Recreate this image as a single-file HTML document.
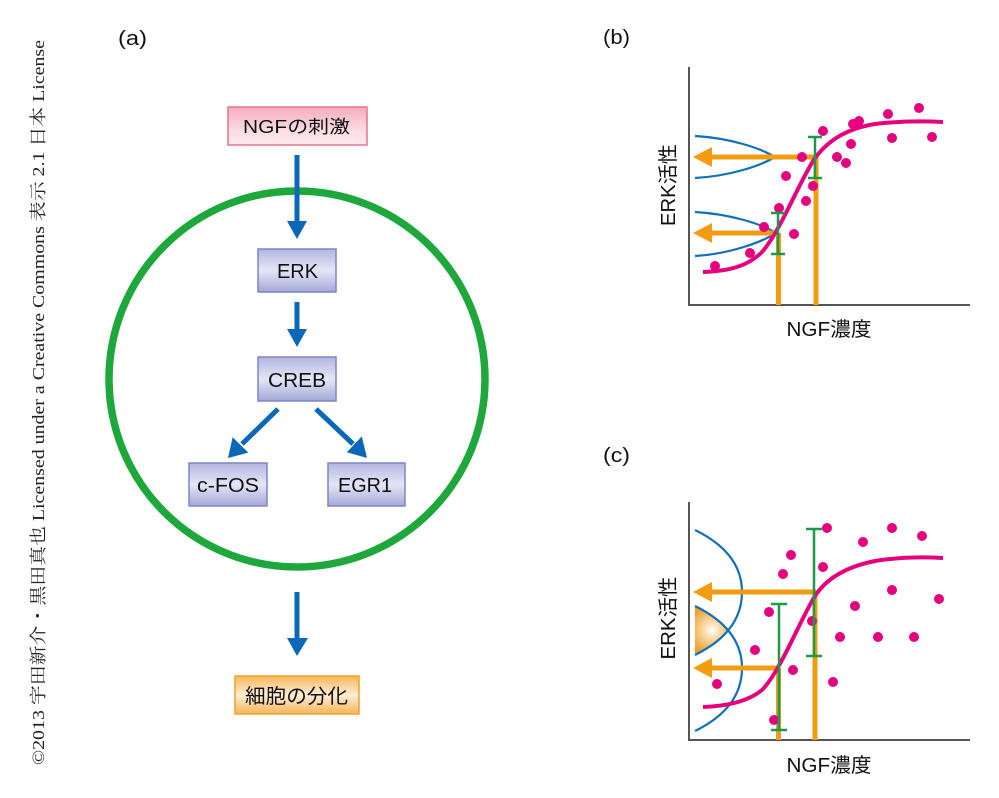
<!DOCTYPE html>
<html>
<head>
<meta charset="utf-8">
<style>
html,body{margin:0;padding:0;background:#fff;}
svg{display:block;}
text{font-family:"Liberation Sans","Noto Sans CJK JP",sans-serif;fill:#111;}
.serif{font-family:"Liberation Serif","Noto Serif CJK SC",serif;fill:#222;}
</style>
</head>
<body>
<svg width="999" height="798" viewBox="0 0 999 798" xmlns="http://www.w3.org/2000/svg">
<defs>
  <linearGradient id="gBlue" x1="0" y1="0" x2="0" y2="1">
    <stop offset="0" stop-color="#b2b6e0"/>
    <stop offset="0.5" stop-color="#e4e6f6"/>
    <stop offset="1" stop-color="#a3a8d7"/>
  </linearGradient>
  <linearGradient id="gPink" x1="0" y1="0" x2="0" y2="1">
    <stop offset="0" stop-color="#f5adbb"/>
    <stop offset="0.6" stop-color="#fbdbe2"/>
    <stop offset="1" stop-color="#fde9ee"/>
  </linearGradient>
  <linearGradient id="gOrange" x1="0" y1="0" x2="0" y2="1">
    <stop offset="0" stop-color="#f6b658"/>
    <stop offset="0.5" stop-color="#feeed6"/>
    <stop offset="1" stop-color="#f5b45a"/>
  </linearGradient>
  <radialGradient id="gShade" cx="712" cy="630" r="24" gradientUnits="userSpaceOnUse">
    <stop offset="0" stop-color="#ffffff"/>
    <stop offset="0.3" stop-color="#fde0b4"/>
    <stop offset="1" stop-color="#ee9f2e"/>
  </radialGradient>
</defs>

<!-- copyright -->
<text class="serif" transform="translate(44,765) rotate(-90)" font-size="17" textLength="725" lengthAdjust="spacingAndGlyphs">©2013 宇田新介・黒田真也 Licensed under a Creative Commons 表示 2.1 日本 License</text>

<!-- panel labels -->
<text x="118" y="45" font-size="20" textLength="29" lengthAdjust="spacingAndGlyphs">(a)</text>
<text x="603" y="44" font-size="20" textLength="27" lengthAdjust="spacingAndGlyphs">(b)</text>
<text x="603" y="462" font-size="20" textLength="27" lengthAdjust="spacingAndGlyphs">(c)</text>

<!-- ===== Panel (a) ===== -->
<circle cx="297" cy="379" r="188" fill="none" stroke="#1ea83c" stroke-width="7.5"/>

<!-- NGF box -->
<rect x="228" y="107" width="139" height="38" fill="url(#gPink)" stroke="#e07688" stroke-width="1.5"/>
<text x="243" y="133" font-size="18" textLength="107" lengthAdjust="spacingAndGlyphs">NGFの刺激</text>

<!-- arrow NGF -> ERK -->
<rect x="294.5" y="155" width="5" height="68" fill="#0a68b8"/>
<polygon points="287,221 307,221 297,239" fill="#0a68b8"/>

<!-- ERK -->
<rect x="258" y="249" width="78" height="43" fill="url(#gBlue)" stroke="#7d86c6" stroke-width="1.5"/>
<text x="277" y="278" font-size="20" textLength="41" lengthAdjust="spacingAndGlyphs">ERK</text>

<!-- arrow ERK -> CREB -->
<rect x="294.5" y="302" width="5" height="29" fill="#0a68b8"/>
<polygon points="287,329 307,329 297,347" fill="#0a68b8"/>

<!-- CREB -->
<rect x="258" y="357" width="78" height="44" fill="url(#gBlue)" stroke="#7d86c6" stroke-width="1.5"/>
<text x="268" y="387" font-size="20" textLength="58" lengthAdjust="spacingAndGlyphs">CREB</text>

<!-- diagonal arrows -->
<line x1="278" y1="409" x2="242" y2="444" stroke="#0a68b8" stroke-width="5"/>
<polygon points="228,458 232.6,437.3 248.3,452.6" fill="#0a68b8"/>
<line x1="316" y1="409" x2="353" y2="444" stroke="#0a68b8" stroke-width="5"/>
<polygon points="367,458 346.8,452.3 361.8,436.4" fill="#0a68b8"/>

<!-- c-FOS / EGR1 -->
<rect x="189" y="463" width="78" height="43" fill="url(#gBlue)" stroke="#7d86c6" stroke-width="1.5"/>
<text x="197" y="492" font-size="20" textLength="62" lengthAdjust="spacingAndGlyphs">c-FOS</text>
<rect x="328" y="463" width="77" height="43" fill="url(#gBlue)" stroke="#7d86c6" stroke-width="1.5"/>
<text x="338" y="492" font-size="20" textLength="54" lengthAdjust="spacingAndGlyphs">EGR1</text>

<!-- bottom arrow -->
<rect x="294.5" y="592" width="5" height="48" fill="#0a68b8"/>
<polygon points="287,638 308,638 297,656" fill="#0a68b8"/>

<!-- 細胞の分化 -->
<rect x="235" y="676" width="124" height="38" fill="url(#gOrange)" stroke="#f0a028" stroke-width="1.5"/>
<text x="245" y="703" font-size="20" textLength="103" lengthAdjust="spacingAndGlyphs">細胞の分化</text>

<!-- ===== Panel (b) ===== -->
<g>
  <line x1="689" y1="67" x2="689" y2="306" stroke="#555" stroke-width="2"/>
  <line x1="688" y1="305" x2="970" y2="305" stroke="#555" stroke-width="2"/>
  <path d="M695,136 C730,138 760,148 775,157 C760,166 730,176 695,178" fill="none" stroke="#1170b8" stroke-width="2.2"/>
  <path d="M695,212 C730,214 762,224 776,233 C762,242 730,254 695,256" fill="none" stroke="#1170b8" stroke-width="2.2"/>
  <rect x="710" y="154.5" width="106" height="5" fill="#f39c12"/>
  <polygon points="693,157 712,147 712,167" fill="#f39c12"/>
  <rect x="813.5" y="157" width="5" height="148" fill="#f39c12"/>
  <rect x="710" y="230.5" width="69" height="5" fill="#f39c12"/>
  <polygon points="693,233 712,223 712,243" fill="#f39c12"/>
  <rect x="776" y="233" width="5" height="72" fill="#f39c12"/>
  <path d="M703,272 C730,271 748,266 762,252 C780,232 800,180 815,158 C830,138 850,128 875,124 C900,121 925,121 943,122" fill="none" stroke="#e4007f" stroke-width="4"/>
  <g fill="#e4007f">
    <circle cx="715" cy="266" r="5"/><circle cx="750" cy="253" r="5"/>
    <circle cx="764" cy="227" r="5"/><circle cx="779" cy="208" r="5"/>
    <circle cx="794" cy="234" r="5"/><circle cx="806" cy="201" r="5"/>
    <circle cx="813" cy="186" r="5"/><circle cx="786" cy="176" r="5"/>
    <circle cx="802" cy="157" r="5"/><circle cx="823" cy="131" r="5"/>
    <circle cx="837" cy="157" r="5"/><circle cx="846" cy="163" r="5"/>
    <circle cx="851" cy="144" r="5"/><circle cx="853" cy="124" r="5"/>
    <circle cx="859" cy="121" r="5"/><circle cx="888" cy="114" r="5"/>
    <circle cx="892" cy="138" r="5"/><circle cx="919" cy="108" r="5"/>
    <circle cx="932" cy="137" r="5"/>
  </g>
  <g stroke="#1a9a4a" stroke-width="2.5" fill="none">
    <line x1="815" y1="137" x2="815" y2="178"/>
    <line x1="808" y1="137" x2="822" y2="137"/>
    <line x1="808" y1="178" x2="822" y2="178"/>
    <line x1="778" y1="213" x2="778" y2="254"/>
    <line x1="771" y1="213" x2="785" y2="213"/>
    <line x1="771" y1="254" x2="785" y2="254"/>
  </g>
  <text transform="translate(675,185) rotate(-90)" font-size="20" text-anchor="middle" textLength="82" lengthAdjust="spacingAndGlyphs">ERK活性</text>
  <text x="829" y="336" font-size="20" text-anchor="middle" textLength="85" lengthAdjust="spacingAndGlyphs">NGF濃度</text>
</g>

<!-- ===== Panel (c) ===== -->
<g>
  <line x1="689" y1="502" x2="689" y2="741" stroke="#555" stroke-width="2"/>
  <line x1="688" y1="740" x2="970" y2="740" stroke="#555" stroke-width="2"/>
  <path d="M695,606 Q714,616 728,630 Q714,646 695,655 Z" fill="url(#gShade)"/>
  <path d="M695,530 Q742,553 742,592 Q742,632 695,655" fill="none" stroke="#1170b8" stroke-width="2.2"/>
  <path d="M695,606 Q742,629 742,668 Q742,708 695,731" fill="none" stroke="#1170b8" stroke-width="2.2"/>
  <rect x="710" y="589.5" width="106" height="5" fill="#f39c12"/>
  <polygon points="693,592 712,582 712,602" fill="#f39c12"/>
  <rect x="812.5" y="592" width="5" height="148" fill="#f39c12"/>
  <rect x="710" y="665.5" width="69" height="5" fill="#f39c12"/>
  <polygon points="693,668 712,658 712,678" fill="#f39c12"/>
  <rect x="776" y="668" width="5" height="72" fill="#f39c12"/>
  <path d="M703,707 C730,706 750,700 762,690 C780,672 800,620 815,596 C828,576 850,566 875,561 C900,557 925,557 943,558" fill="none" stroke="#e4007f" stroke-width="4"/>
  <g fill="#e4007f">
    <circle cx="717" cy="684" r="5"/><circle cx="755" cy="650" r="5"/>
    <circle cx="769" cy="612" r="5"/><circle cx="774" cy="720" r="5"/>
    <circle cx="783" cy="574" r="5"/><circle cx="791" cy="555" r="5"/>
    <circle cx="793" cy="670" r="5"/><circle cx="812" cy="621" r="5"/>
    <circle cx="823" cy="567" r="5"/><circle cx="827" cy="528" r="5"/>
    <circle cx="833" cy="682" r="5"/><circle cx="840" cy="637" r="5"/>
    <circle cx="855" cy="606" r="5"/><circle cx="863" cy="542" r="5"/>
    <circle cx="878" cy="637" r="5"/><circle cx="892" cy="590" r="5"/>
    <circle cx="892" cy="528" r="5"/><circle cx="914" cy="637" r="5"/>
    <circle cx="922" cy="536" r="5"/><circle cx="939" cy="599" r="5"/>
  </g>
  <g stroke="#1a9a4a" stroke-width="2.5" fill="none">
    <line x1="814" y1="529" x2="814" y2="656"/>
    <line x1="806" y1="529" x2="822" y2="529"/>
    <line x1="806" y1="656" x2="822" y2="656"/>
    <line x1="779" y1="604" x2="779" y2="730"/>
    <line x1="771" y1="604" x2="787" y2="604"/>
    <line x1="771" y1="730" x2="787" y2="730"/>
  </g>
  <text transform="translate(675,618) rotate(-90)" font-size="20" text-anchor="middle" textLength="83" lengthAdjust="spacingAndGlyphs">ERK活性</text>
  <text x="829" y="772" font-size="20" text-anchor="middle" textLength="85" lengthAdjust="spacingAndGlyphs">NGF濃度</text>
</g>
</svg>
</body>
</html>
